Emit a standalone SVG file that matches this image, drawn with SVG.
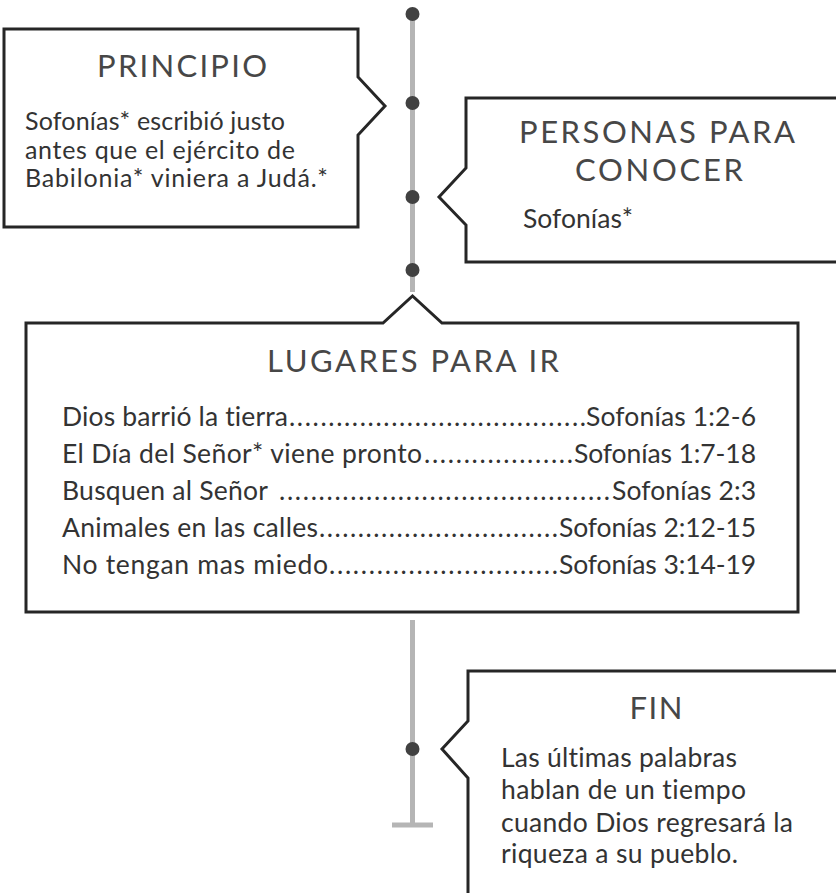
<svg xmlns="http://www.w3.org/2000/svg" width="836" height="893" viewBox="0 0 836 893">
  <style>
    .box { fill: #ffffff; stroke: #262626; stroke-width: 3; stroke-linejoin: miter; }
    .rail { stroke: #b5b5b5; stroke-width: 5; fill: none; }
    .dot { fill: #414141; }
    text { font-family: "Lato", "Liberation Sans", sans-serif; font-variant-ligatures: none; font-feature-settings: "liga" 0, "clig" 0; }
    .title { font-size: 31px; fill: #474747; text-anchor: middle; }
    .body { font-size: 26.5px; fill: #333333; }
    .tight { font-size: 25px; }
    .ref { text-anchor: end; }
  </style>
  <rect x="0" y="0" width="836" height="893" fill="#ffffff"/>

  <g id="connectors">
    <line class="rail" x1="412.5" y1="14" x2="412.5" y2="292"/>
    <circle class="dot" cx="412.5" cy="14" r="7"/>
    <circle class="dot" cx="412.5" cy="103" r="7"/>
    <circle class="dot" cx="412.5" cy="197" r="7"/>
    <circle class="dot" cx="412.5" cy="270" r="7"/>
    <line class="rail" x1="412.5" y1="620" x2="412.5" y2="825"/>
    <line class="rail" x1="392" y1="825" x2="433" y2="825"/>
    <circle class="dot" cx="412.5" cy="749" r="7"/>
  </g>

  <g id="principio">
    <path class="box" d="M4,29 H358 V77 L385,106 L358,135 V227 H4 Z"/>
    <text class="title" x="182" y="77" textLength="170">PRINCIPIO</text>
    <text class="body tight" x="25" y="130" textLength="260">Sofonías* escribió justo</text>
    <text class="body tight" x="25" y="158.5" textLength="270">antes que el ejército de</text>
    <text class="body tight" x="25" y="187" textLength="303">Babilonia* viniera a Judá.*</text>
  </g>

  <g id="personas">
    <path class="box" d="M850,98 H466 V168 L439,197 L466,225 V262 H850 Z"/>
    <text class="title" x="657" y="143" textLength="276">PERSONAS PARA</text>
    <text class="title" x="659" y="181" textLength="168">CONOCER</text>
    <text class="body" x="523" y="228" textLength="110">Sofonías*</text>
  </g>

  <g id="lugares">
    <path class="box" d="M26,323 H383 L412.5,296 L442,323 H798 V612 H26 Z"/>
    <text class="title" x="413" y="372" textLength="292">LUGARES PARA IR</text>

    <text class="body" x="62" y="426" textLength="226">Dios barrió la tierra</text>
    <text class="body" x="289" y="426" textLength="297">......................................</text>
    <text class="body ref" x="756" y="426" textLength="170">Sofonías 1:2-6</text>

    <text class="body" x="62" y="463" textLength="360">El Día del Señor* viene pronto</text>
    <text class="body" x="424" y="463" textLength="149">...................</text>
    <text class="body ref" x="756" y="463" textLength="182">Sofonías 1:7-18</text>

    <text class="body" x="62" y="500" textLength="206">Busquen al Señor</text>
    <text class="body" x="279" y="500" textLength="331">..........................................</text>
    <text class="body ref" x="756" y="500" textLength="144">Sofonías 2:3</text>

    <text class="body" x="62" y="537" textLength="256">Animales en las calles</text>
    <text class="body" x="319" y="537" textLength="239">...............................</text>
    <text class="body ref" x="756" y="537" textLength="197">Sofonías 2:12-15</text>

    <text class="body" x="62" y="574" textLength="266">No tengan mas miedo</text>
    <text class="body" x="329" y="574" textLength="229">.............................</text>
    <text class="body ref" x="756" y="574" textLength="197">Sofonías 3:14-19</text>
  </g>

  <g id="fin">
    <path class="box" d="M850,671 H468 V721 L442,749 L468,778 V905 H850 Z"/>
    <text class="title" x="656" y="719" textLength="53">FIN</text>
    <text class="body" x="501" y="767" textLength="236">Las últimas palabras</text>
    <text class="body" x="501" y="799" textLength="245">hablan de un tiempo</text>
    <text class="body" x="501" y="832" textLength="292">cuando Dios regresará la</text>
    <text class="body" x="501" y="863" textLength="237">riqueza a su pueblo.</text>
  </g>
</svg>
